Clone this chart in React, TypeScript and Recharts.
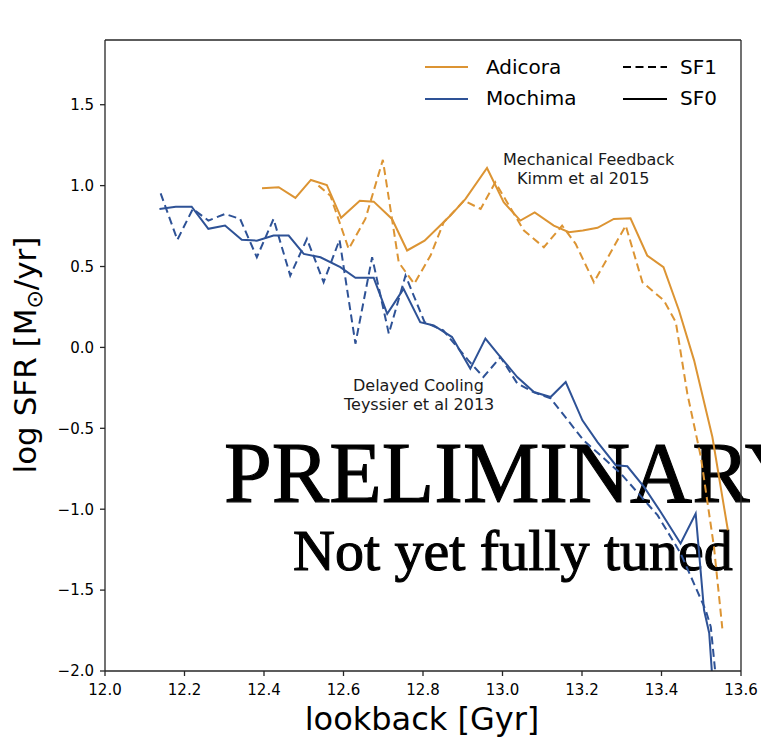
import React from 'react';
import { LineChart, Line, XAxis, YAxis, ReferenceLine } from 'recharts';

// lookback time [Gyr] and log SFR [Msun/yr] for each run
const adicoraSF0Gyr = [12.395, 12.437, 12.479, 12.518, 12.558, 12.594, 12.641, 12.676, 12.722, 12.760, 12.804, 12.869, 12.907, 12.961, 13.003, 13.045, 13.081, 13.129, 13.167, 13.202, 13.239, 13.280, 13.322, 13.364, 13.405, 13.444, 13.482, 13.528, 13.567];
const adicoraSF0 = [0.983, 0.990, 0.924, 1.035, 1.004, 0.801, 0.907, 0.901, 0.794, 0.599, 0.660, 0.815, 0.918, 1.109, 0.897, 0.784, 0.835, 0.753, 0.712, 0.722, 0.739, 0.794, 0.798, 0.568, 0.496, 0.228, -0.080, -0.554, -1.130];

const adicoraSF1Gyr = [12.537, 12.567, 12.613, 12.655, 12.699, 12.739, 12.778, 12.819, 12.852, 12.903, 12.945, 12.982, 13.054, 13.104, 13.150, 13.184, 13.230, 13.310, 13.352, 13.406, 13.436, 13.465, 13.499, 13.532, 13.553];
const adicoraSF1 = [1.000, 0.938, 0.609, 0.794, 1.159, 0.525, 0.393, 0.568, 0.773, 0.907, 0.856, 1.020, 0.722, 0.619, 0.753, 0.640, 0.403, 0.753, 0.403, 0.290, 0.156, -0.286, -0.677, -1.233, -1.736];

const mochimaSF0Gyr = [12.137, 12.178, 12.218, 12.260, 12.302, 12.344, 12.382, 12.424, 12.462, 12.500, 12.542, 12.592, 12.630, 12.676, 12.710, 12.751, 12.793, 12.827, 12.873, 12.919, 12.957, 12.995, 13.037, 13.079, 13.121, 13.159, 13.201, 13.239, 13.285, 13.314, 13.356, 13.398, 13.448, 13.486, 13.507, 13.520, 13.528];
const mochimaSF0 = [0.856, 0.870, 0.870, 0.733, 0.753, 0.665, 0.660, 0.691, 0.691, 0.578, 0.557, 0.496, 0.430, 0.430, 0.208, 0.362, 0.156, 0.136, 0.064, -0.131, 0.054, -0.060, -0.183, -0.276, -0.307, -0.214, -0.451, -0.585, -0.728, -0.735, -0.862, -1.017, -1.212, -1.027, -1.623, -1.765, -2.05];

const mochimaSF1Gyr = [12.140, 12.182, 12.221, 12.260, 12.302, 12.340, 12.382, 12.424, 12.466, 12.508, 12.550, 12.590, 12.630, 12.672, 12.714, 12.756, 12.804, 12.851, 12.914, 12.952, 12.995, 13.037, 13.078, 13.121, 13.204, 13.297, 13.390, 13.448, 13.511, 13.524, 13.537];
const mochimaSF1 = [0.952, 0.665, 0.856, 0.784, 0.825, 0.794, 0.557, 0.794, 0.444, 0.671, 0.403, 0.665, 0.023, 0.557, 0.085, 0.444, 0.156, 0.105, -0.080, -0.183, -0.060, -0.222, -0.276, -0.315, -0.574, -0.778, -1.037, -1.272, -1.623, -1.727, -2.05];

// axis ticks
const lookbackTicks = [12.0, 12.2, 12.4, 12.6, 12.8, 13.0, 13.2, 13.4, 13.6];
const sfrTicks = [-2.0, -1.5, -1.0, -0.5, 0.0, 0.5, 1.0, 1.5];
// redshift labels on the top axis and the lookback time they sit at
const redshiftLabels = ['4', '5', '6', '10', '15'];
const redshiftLookback = [12.214, 12.589, 12.836, 13.305, 13.516];

const ORANGE = '#dc9433';
const BLUE = '#2e5296';
const FRAME = '#262626';
const DASH = '8 4.5';

const toRows = (t, v) => t.map((x, i) => ({ t: x, sfr: v[i] }));

const fmtSfr = (v) => (v < 0 ? '\u2212' : '') + Math.abs(v).toFixed(1);
const fmtZ = (v) => {
  const i = redshiftLookback.indexOf(v);
  return i >= 0 ? redshiftLabels[i] : '';
};

const runLegend = [
  { name: 'Adicora', color: ORANGE },
  { name: 'Mochima', color: BLUE },
];
const sfLegend = [
  { name: 'SF1', dash: DASH },
  { name: 'SF0', dash: undefined },
];

const sans = 'DejaVu Sans';
const tickStyle = { fontSize: 15, fill: '#000', fontFamily: sans };

const App = () => {
  return (
    <div style={{ position: 'absolute', left: 0, top: 0, width: 761, height: 738, background: '#fff' }}>
      <LineChart width={761} height={738} margin={{ top: 0, right: 20, bottom: 0, left: 0 }}>
        <XAxis
          dataKey="t"
          type="number"
          domain={[12, 13.6]}
          ticks={lookbackTicks}
          tickFormatter={(v) => v.toFixed(1)}
          height={67}
          tickSize={5}
          tickMargin={8}
          tick={tickStyle}
          axisLine={{ stroke: FRAME, strokeWidth: 1.3 }}
          tickLine={{ stroke: FRAME, strokeWidth: 1.3 }}
          allowDataOverflow
        />
        <XAxis
          xAxisId="z"
          orientation="top"
          type="number"
          domain={[12, 13.6]}
          ticks={redshiftLookback}
          tickFormatter={fmtZ}
          height={40}
          tickSize={5}
          tickMargin={12}
          tick={tickStyle}
          axisLine={{ stroke: FRAME, strokeWidth: 1.3 }}
          tickLine={{ stroke: FRAME, strokeWidth: 1.3 }}
        />
        <YAxis
          type="number"
          domain={[-2, 1.9]}
          ticks={sfrTicks}
          tickFormatter={fmtSfr}
          width={105}
          tickSize={5}
          tickMargin={6}
          tick={tickStyle}
          axisLine={{ stroke: FRAME, strokeWidth: 1.3 }}
          tickLine={{ stroke: FRAME, strokeWidth: 1.3 }}
          allowDataOverflow
        />
        <ReferenceLine x={13.6} stroke={FRAME} strokeWidth={1.3} />

        <Line data={toRows(adicoraSF0Gyr, adicoraSF0)} dataKey="sfr" type="linear" stroke={ORANGE} strokeWidth={2} dot={false} isAnimationActive={false} />
        <Line data={toRows(adicoraSF1Gyr, adicoraSF1)} dataKey="sfr" type="linear" stroke={ORANGE} strokeWidth={2} strokeDasharray={DASH} dot={false} isAnimationActive={false} />
        <Line data={toRows(mochimaSF0Gyr, mochimaSF0)} dataKey="sfr" type="linear" stroke={BLUE} strokeWidth={2} dot={false} isAnimationActive={false} />
        <Line data={toRows(mochimaSF1Gyr, mochimaSF1)} dataKey="sfr" type="linear" stroke={BLUE} strokeWidth={2} strokeDasharray={DASH} dot={false} isAnimationActive={false} />

        {/* axis titles */}
        <text x={422} y={730} textAnchor="middle" fontFamily={sans} fontSize={32} fill="#000">lookback [Gyr]</text>
        <text transform="translate(36,355) rotate(-90)" textAnchor="middle" fontFamily={sans} fontSize={31} fill="#000">
          log SFR [M<tspan fontSize={22} dy={6}>{'\u2299'}</tspan><tspan dy={-6}>/yr]</tspan>
        </text>

        {/* legend */}
        <g fontFamily={sans} fontSize={20} fill="#000">
          {runLegend.map((r, i) => (
            <g key={r.name}>
              <line x1={425} x2={468} y1={67 + i * 32} y2={67 + i * 32} stroke={r.color} strokeWidth={2} />
              <text x={486} y={74 + i * 31}>{r.name}</text>
            </g>
          ))}
          {sfLegend.map((s, i) => (
            <g key={s.name}>
              <line x1={623} x2={667} y1={67 + i * 32} y2={67 + i * 32} stroke="#000" strokeWidth={2} strokeDasharray={s.dash} />
              <text x={680} y={74 + i * 31}>{s.name}</text>
            </g>
          ))}
        </g>

        {/* model notes */}
        <g fontFamily={sans} fontSize={16} fill="#1a1a1a">
          <text x={503} y={165}>Mechanical Feedback</text>
          <text x={517} y={184}>Kimm et al 2015</text>
          <text x={353} y={391}>Delayed Cooling</text>
          <text x={344} y={410}>Teyssier et al 2013</text>
        </g>

        {/* watermark, drawn over the curves */}
        <g fontFamily="Liberation Serif" fill="#000" stroke="#000" strokeWidth={1.1}>
          <text x={224} y={502} fontSize={86}>PRELIMINARY</text>
          <text x={293} y={570} fontSize={58}>Not yet fully tuned</text>
        </g>
      </LineChart>
    </div>
  );
};

export default App;
